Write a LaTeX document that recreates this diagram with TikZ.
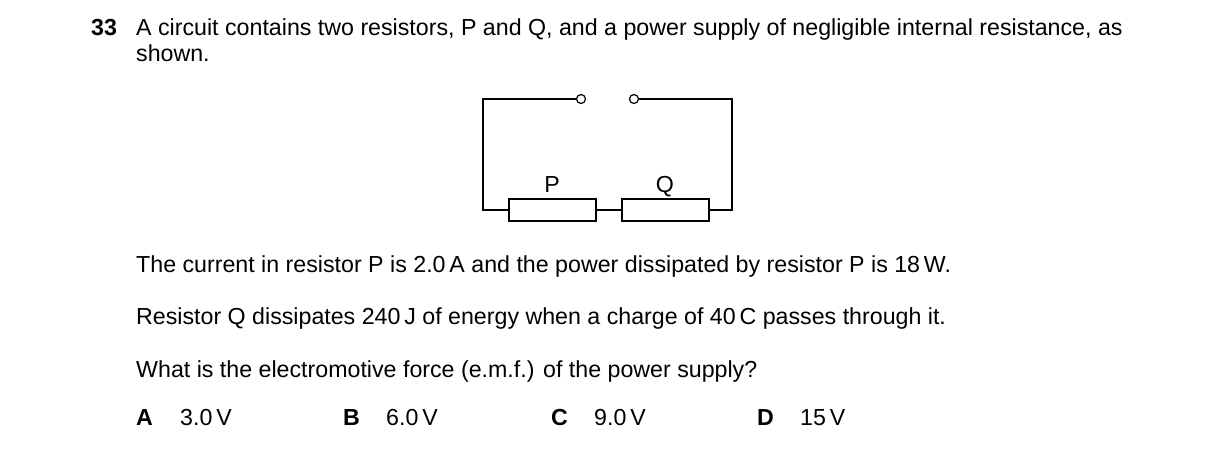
\documentclass[tikz,border=0pt]{standalone}
\usepackage{fontspec}
\setmainfont{Liberation Sans}
\begin{document}
\begin{tikzpicture}[x=1pt,y=-1pt,
  txt/.style={anchor=base west,inner sep=0pt,font=\fontsize{23.2}{28}\selectfont},
  wire/.style={line width=1.2pt},
  res/.style={draw,line width=1.2pt,minimum width=87pt,minimum height=22pt,inner sep=0pt},
  term/.style={circle,draw,line width=1.2pt,minimum size=9pt,inner sep=0pt}]
\useasboundingbox (0,0) rectangle (1216,450);
\node[txt] (n) at (91,35) {\textbf{33}};
\node[txt] (l1) at (136,35) {A circuit contains two resistors, P and Q, and a power supply of negligible internal resistance, as};
\node[txt] (l2) at (136,61) {shown.};
\node[res] (P) at (552.5,210) {};
\node[res] (Q) at (665.5,210) {};
\node[term] (t1) at (581,99) {};
\node[term] (t2) at (634,99) {};
\coordinate (tl) at (483,99);
\coordinate (bl) at (483,210);
\coordinate (tr) at (732,99);
\coordinate (br) at (732,210);
\node[txt,anchor=base] (lp) at (552,192) {P};
\node[txt,anchor=base] (lq) at (665,192) {Q};
\draw[wire] (t1.west) -- (tl) -- (bl) -- (P.west);
\draw[wire] (P.east) -- (Q.west);
\draw[wire] (Q.east) -- (br) -- (tr) -- (t2.east);
\node[txt] (s1) at (136,272) {The current in resistor P is 2.0\,A and the power dissipated by resistor P is 18\,W.};
\node[txt] (s2) at (136,324) {Resistor Q dissipates 240\,J of energy when a charge of 40\,C passes through it.};
\node[txt] (s3) at (136,377) {What is the electromotive force (e.m.f.) of the power supply?};
\node[txt] (a) at (136,425) {\textbf{A}};
\node[txt] (av) at (180,425) {3.0\,V};
\node[txt] (b) at (343,425) {\textbf{B}};
\node[txt] (bv) at (386,425) {6.0\,V};
\node[txt] (c) at (551,425) {\textbf{C}};
\node[txt] (cv) at (594,425) {9.0\,V};
\node[txt] (d) at (757,425) {\textbf{D}};
\node[txt] (dv) at (800,425) {15\,V};
\end{tikzpicture}
\end{document}
